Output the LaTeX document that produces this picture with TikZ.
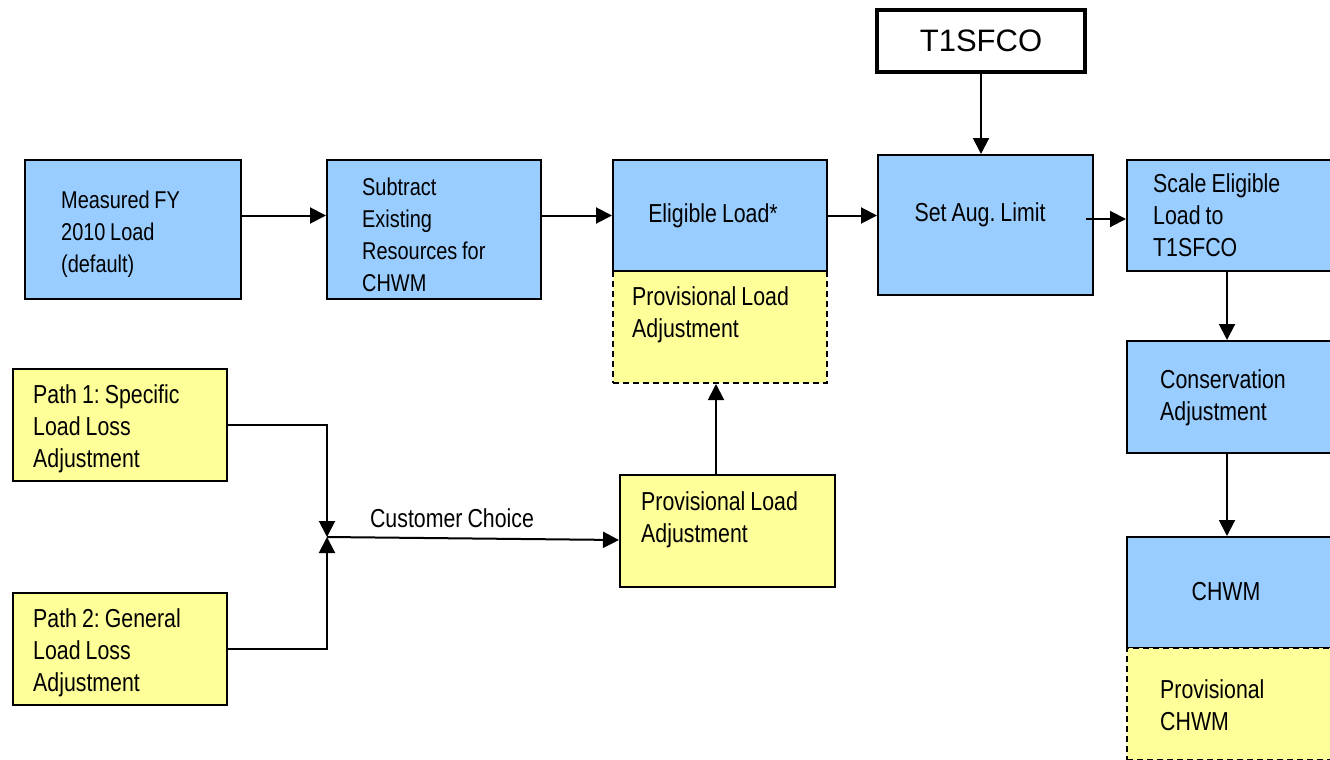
\documentclass[tikz,border=0pt]{standalone}
\usepackage{fontspec}
\setmainfont{Liberation Sans}
\newfontfamily\narrowfont[FakeStretch=0.82,WordSpace=0.85]{Liberation Sans}
\frenchspacing
\usetikzlibrary{arrows.meta,calc}
\definecolor{boxblue}{HTML}{99CCFF}
\definecolor{boxyellow}{HTML}{FFFF99}
\tikzset{
  bluebox/.style={draw=black, line width=2pt, fill=boxblue, inner sep=0pt},
  yellowbox/.style={draw=black, line width=2pt, fill=boxyellow, inner sep=0pt},
  dashbox/.style={draw=black, line width=2pt, fill=boxyellow, dash pattern=on 6pt off 4pt, inner sep=0pt},
  headbox/.style={draw=black, line width=4pt, fill=white, inner sep=0pt, font=\fontsize{31}{36}\selectfont},
  txt/.style={inner sep=0pt, align=left, font=\narrowfont\fontsize{26}{32}\selectfont\frenchspacing},
  txtsmall/.style={inner sep=0pt, align=left, font=\narrowfont\fontsize{24.3}{32}\selectfont\frenchspacing},
  arr/.style={line width=2pt, -{Triangle[length=16pt,width=16pt]}},
  ln/.style={line width=2pt},
}
\begin{document}
\begin{tikzpicture}[x=1pt,y=-1pt]
\useasboundingbox (0,0) rectangle (1330,760);
\fill[white] (0,0) rectangle (1330,760);

% top row
\node[bluebox, minimum width=216, minimum height=139] (measured) at (133,229.5) {};
\node[txtsmall, anchor=west] (measuredt) at (61,234) {Measured FY\\2010 Load\\(default)};
\node[bluebox, minimum width=214, minimum height=139] (subtract) at (434,229.5) {};
\node[txtsmall, anchor=west] (subtractt) at (362,235) {Subtract\\Existing\\Resources for\\CHWM};

\node[dashbox, minimum width=214, minimum height=112] (provtop) at (720,327) {};
\node[bluebox, minimum width=214, minimum height=111] (elig) at (720,215.5) {};
\node[txt] (eligt) at (713,216) {Eligible Load*};
\node[txt, anchor=west] (provtopt) at (632,315) {Provisional Load\\Adjustment};

\node[headbox, minimum width=208, minimum height=62] (t1) at (981,41) {T1SFCO};
\node[bluebox, minimum width=215, minimum height=140] (setaug) at (985.5,225) {};
\node[txt] (setaugt) at (980,215) {Set Aug. Limit};

\node[bluebox, minimum width=210, minimum height=111] (scale) at (1232,215.5) {};
\node[txt, anchor=west] (scalet) at (1153,215) {Scale Eligible\\Load to\\T1SFCO};
\node[bluebox, minimum width=210, minimum height=112] (cons) at (1232,397) {};
\node[txt, anchor=west] (const) at (1160,398) {Conservation\\Adjustment};
\node[bluebox, minimum width=210, minimum height=111] (chwm) at (1232,592.5) {};
\node[dashbox, minimum width=210, minimum height=112] (provchwm) at (1232,704) {};
\node[txt] (chwmt) at (1226,592) {CHWM};
\node[txt, anchor=west] (provchwmt) at (1160,705) {Provisional\\CHWM};

% lower left
\node[yellowbox, minimum width=214, minimum height=112] (path1) at (120,425) {};
\node[txt, anchor=west] (path1t) at (33,429) {Path 1: Specific\\Load Loss\\Adjustment};
\node[yellowbox, minimum width=214, minimum height=112] (path2) at (120,649) {};
\node[txt, anchor=west] (path2t) at (33,653) {Path 2: General\\Load Loss\\Adjustment};
\node[yellowbox, minimum width=215, minimum height=112] (prov2) at (727.5,531) {};
\node[txt, anchor=west] (prov2t) at (641,520) {Provisional Load\\Adjustment};

\coordinate (junc) at (327,537);
\node[txt] (choice) at (452,518) {Customer Choice};

% connectors
\draw[arr] (measured.east |- elig.center) -- (subtract.west |- elig.center);
\draw[arr] (subtract.east |- elig.center) -- (elig.west);
\draw[arr] (elig.east) -- (setaug.west |- elig.center);
\draw[arr] ([xshift=-8pt,yshift=6pt]setaug.east) -- ([yshift=-3.5pt]scale.west);
\draw[arr] (t1.south) -- (t1.south |- setaug.north);
\draw[arr] ([xshift=-5pt]scale.south) -- ([xshift=-5pt]cons.north);
\draw[arr] ([xshift=-5pt]cons.south) -- ([xshift=-5pt]chwm.north);
\draw[arr] (path1.east) -| (junc);
\draw[arr] (path2.east) -| (junc);
\draw[arr] (junc) -- ([yshift=-9pt]prov2.west);
\draw[arr] ([xshift=-11.5pt]prov2.north) -- ([xshift=-11.5pt]prov2.north |- provtop.south);
\end{tikzpicture}
\end{document}
